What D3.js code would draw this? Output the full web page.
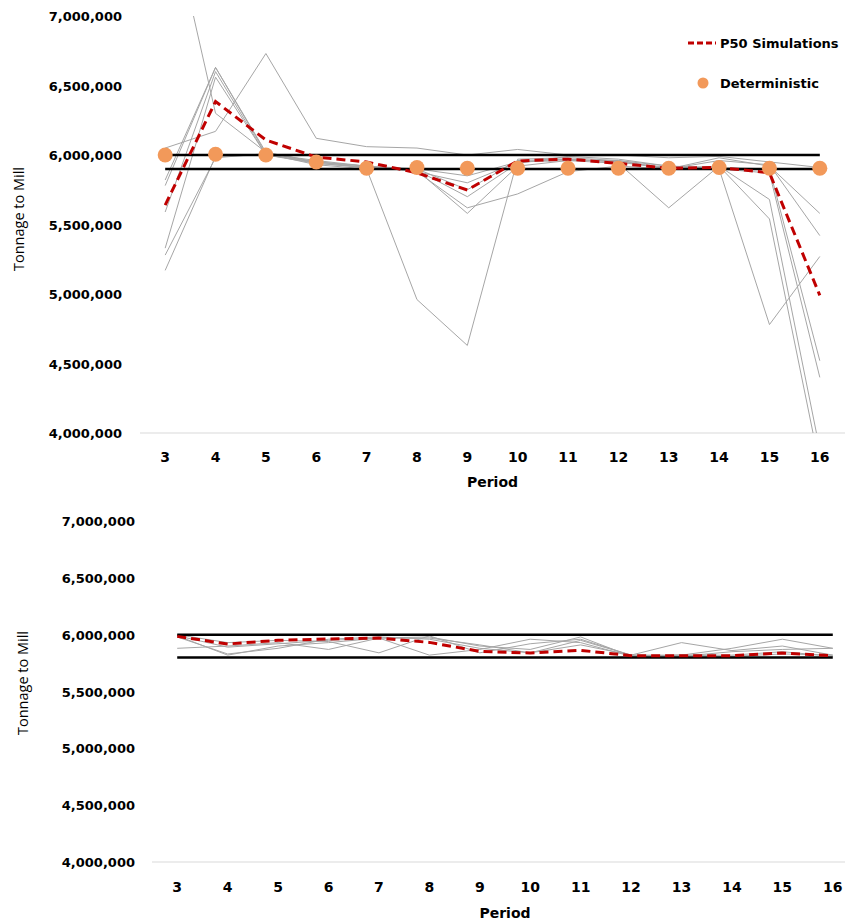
<!DOCTYPE html>
<html>
<head>
<meta charset="utf-8">
<script src="https://cdn.jsdelivr.net/npm/d3@7"></script>
<style>
  html, body { margin: 0; padding: 0; background: #ffffff; }
  svg { display: block; }
</style>
</head>
<body>
<svg id="chart" width="845" height="923"></svg>
<script>
// ---------- DATA ----------
const periods = [3, 4, 5, 6, 7, 8, 9, 10, 11, 12, 13, 14, 15, 16];
const yTickValues = [4000000, 4500000, 5000000, 5500000, 6000000, 6500000, 7000000];

// Top chart
const topP50 = [5640000, 6385000, 6108000, 5985000, 5950000, 5872000, 5748000, 5957000, 5970000, 5940000, 5905000, 5910000, 5872000, 4990000];
const topDeterministic = [6000000, 6005000, 6000000, 5950000, 5905000, 5910000, 5905000, 5905000, 5905000, 5905000, 5905000, 5910000, 5905000, 5905000];
const topLimits = [6000000, 5900000];
const topSim1 = [7900000, 6300000, 6020000, 5950000, 5920000, 5880000, 5620000, 5720000, 5880000, 5920000, 5900000, 5920000, 5680000, 3880000];
const topSim2 = [6050000, 6170000, 6730000, 6120000, 6060000, 6050000, 6000000, 6040000, 6000000, 6000000, 5980000, 5990000, 5950000, 5910000];
const topSim3 = [5820000, 6630000, 6020000, 5940000, 5910000, 5890000, 5580000, 5920000, 5960000, 5940000, 5620000, 5920000, 5540000, 3760000];
const topSim4 = [5780000, 6630000, 6010000, 5930000, 5900000, 4960000, 4630000, 5970000, 5980000, 5960000, 5920000, 5910000, 5900000, 4520000];
const topSim5 = [5330000, 6560000, 6000000, 5950000, 5910000, 5900000, 5750000, 5960000, 5970000, 5950000, 5910000, 5900000, 4780000, 5270000];
const topSim6 = [5280000, 5980000, 6010000, 5960000, 5920000, 5880000, 5800000, 5950000, 5970000, 5950000, 5900000, 5980000, 5920000, 5580000];
const topSim7 = [5170000, 5990000, 6000000, 5950000, 5920000, 5900000, 5850000, 5950000, 5960000, 5960000, 5900000, 5960000, 5930000, 5420000];
const topSim8 = [5590000, 6600000, 6000000, 5940000, 5910000, 5890000, 5700000, 5940000, 5990000, 5970000, 5920000, 5900000, 5870000, 4400000];

// Bottom chart
const bottomP50 = [5985000, 5918000, 5950000, 5962000, 5970000, 5932000, 5853000, 5839000, 5862000, 5815000, 5815000, 5815000, 5839000, 5815000];
const bottomLimits = [6000000, 5800000];
const bottomSim1 = [5990000, 5820000, 5900000, 5930000, 5970000, 5980000, 5900000, 5870000, 5980000, 5810000, 5820000, 5880000, 5960000, 5880000];
const bottomSim2 = [5980000, 5830000, 5880000, 5960000, 5980000, 5960000, 5880000, 5840000, 5950000, 5820000, 5930000, 5860000, 5900000, 5820000];
const bottomSim3 = [5880000, 5900000, 5930000, 5870000, 5970000, 5820000, 5870000, 5960000, 5930000, 5810000, 5820000, 5820000, 5850000, 5810000];
const bottomSim4 = [6000000, 5930000, 5950000, 5940000, 5840000, 5990000, 5840000, 5920000, 5960000, 5820000, 5810000, 5850000, 5870000, 5880000];
const bottomSim5 = [5990000, 5890000, 5920000, 5950000, 5970000, 5970000, 5910000, 5840000, 5910000, 5820000, 5820000, 5810000, 5830000, 5820000];

const legendLabels = ["P50 Simulations", "Deterministic"];
const yTitle = "Tonnage to Mill";
const xTitle = "Period";

// ---------- DRAWING ----------
const svg = d3.select("#chart");
const fmt = d3.format(",");
const LABEL_FONT = "'DejaVu Sans', Verdana, sans-serif";

function drawPanel(cfg) {
  const x = d3.scaleBand().domain(periods).range([cfg.left, cfg.right]).padding(0);
  const y = d3.scaleLinear().domain([4000000, 7000000]).range([cfg.bottom, cfg.top]);
  const cx = p => x(p) + x.bandwidth() / 2;

  const g = svg.append("g");
  const clipId = "clip-" + cfg.id;
  svg.append("clipPath").attr("id", clipId)
    .append("rect")
    .attr("x", cfg.left).attr("y", cfg.top)
    .attr("width", cfg.right - cfg.left).attr("height", cfg.bottom - cfg.top);

  // baseline (category axis line at 4,000,000)
  g.append("line")
    .attr("x1", cfg.left).attr("x2", cfg.right)
    .attr("y1", y(4000000)).attr("y2", y(4000000))
    .attr("stroke", "#d9d9d9").attr("stroke-width", 1);

  // y tick labels
  const yAxis = d3.axisLeft(y).tickValues(yTickValues).tickFormat(fmt).tickSize(0).tickPadding(0);
  const ya = g.append("g").attr("transform", `translate(${cfg.yLabelX},0)`).call(yAxis);
  ya.select(".domain").remove();
  ya.selectAll("text")
    .attr("font-family", LABEL_FONT).attr("font-weight", "bold")
    .attr("font-size", 13).attr("fill", "#000").attr("dy", "0.35em");

  // x tick labels
  const xAxis = d3.axisBottom(x).tickSize(0).tickPadding(0);
  const xa = g.append("g").attr("transform", `translate(0,${cfg.xLabelY})`).call(xAxis);
  xa.select(".domain").remove();
  xa.selectAll("text")
    .attr("font-family", LABEL_FONT).attr("font-weight", "bold")
    .attr("font-size", 14).attr("fill", "#000").attr("dy", "0.35em");

  // axis titles
  g.append("text")
    .attr("x", (cfg.left + cfg.right) / 2).attr("y", cfg.xTitleY)
    .attr("text-anchor", "middle").attr("dy", "0.35em")
    .attr("font-family", LABEL_FONT).attr("font-weight", "bold").attr("font-size", 14)
    .text(xTitle);
  g.append("text")
    .attr("transform", `translate(${cfg.yTitleX},${cfg.yTitleY}) rotate(-90)`)
    .attr("text-anchor", "middle").attr("dy", "0.35em")
    .attr("font-family", "'Open Sans', sans-serif").attr("font-size", 14.5)
    .text(yTitle);

  const plot = g.append("g").attr("clip-path", `url(#${clipId})`);
  const line = d3.line().x((d, i) => cx(periods[i])).y(d => y(d));

  // simulation lines
  plot.selectAll(".sim").data(cfg.sims).join("path")
    .attr("class", "sim")
    .attr("d", line)
    .attr("fill", "none").attr("stroke", "#a6a6a6").attr("stroke-width", 1);

  // limit lines
  plot.selectAll(".limit").data(cfg.limits).join("line")
    .attr("class", "limit")
    .attr("x1", cx(periods[0])).attr("x2", cx(periods[periods.length - 1]))
    .attr("y1", d => y(d)).attr("y2", d => y(d))
    .attr("stroke", "#000").attr("stroke-width", 2.5);

  // P50 line
  plot.append("path")
    .attr("d", line(cfg.p50))
    .attr("fill", "none").attr("stroke", "#c00000").attr("stroke-width", 3)
    .attr("stroke-dasharray", "9,5");

  // deterministic points
  if (cfg.det) {
    plot.selectAll(".det").data(cfg.det).join("circle")
      .attr("class", "det")
      .attr("cx", (d, i) => cx(periods[i])).attr("cy", d => y(d))
      .attr("r", 7.5).attr("fill", "#f2995a");
  }
}

drawPanel({
  id: "top", left: 140, right: 845, top: 16, bottom: 433,
  yLabelX: 122, xLabelY: 457, xTitleY: 482, yTitleX: 19, yTitleY: 219,
  sims: [topSim1, topSim2, topSim3, topSim4, topSim5, topSim6, topSim7, topSim8],
  limits: topLimits, p50: topP50, det: topDeterministic
});

drawPanel({
  id: "bottom", left: 152, right: 858, top: 521, bottom: 862,
  yLabelX: 135, xLabelY: 887, xTitleY: 913, yTitleX: 23, yTitleY: 683,
  sims: [bottomSim1, bottomSim2, bottomSim3, bottomSim4, bottomSim5],
  limits: bottomLimits, p50: bottomP50, det: null
});

// legend (top chart)
const lg = svg.append("g");
lg.append("line")
  .attr("x1", 688).attr("x2", 716).attr("y1", 43).attr("y2", 43)
  .attr("stroke", "#c00000").attr("stroke-width", 3).attr("stroke-dasharray", "6,3");
lg.append("circle").attr("cx", 703).attr("cy", 83).attr("r", 5.5).attr("fill", "#f2995a");
lg.selectAll(".lt").data(legendLabels).join("text")
  .attr("class", "lt")
  .attr("x", 720).attr("y", (d, i) => 43 + i * 40).attr("dy", "0.35em")
  .attr("font-family", LABEL_FONT).attr("font-weight", "bold").attr("font-size", 13)
  .text(d => d);
</script>
</body>
</html>
